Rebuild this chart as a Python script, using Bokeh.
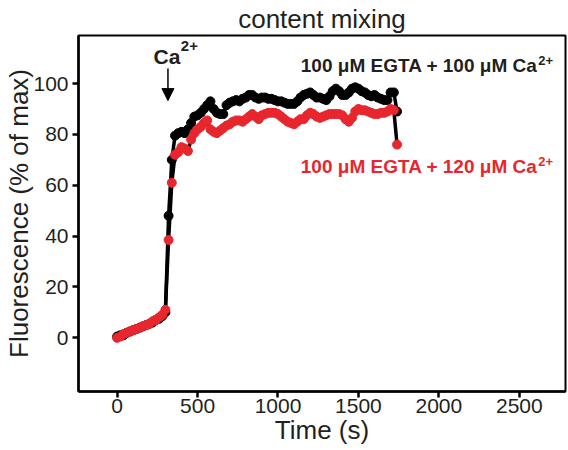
from bokeh.plotting import figure
from bokeh.models import Range1d, FixedTicker, Label, Arrow, NormalHead
from bokeh.embed import file_html
from bokeh.resources import INLINE

# ---- data ----
time_s = [0, 20, 40, 60, 80, 100, 120, 140, 160, 180,
          200, 220, 240, 260, 280, 300, 320, 340, 360, 380,
          400, 420, 440, 460, 480, 500, 520, 540, 560, 580,
          600, 620, 640, 660, 680, 700, 720, 740, 760, 780,
          800, 820, 840, 860, 880, 900, 920, 940, 960, 980,
          1000, 1020, 1040, 1060, 1080, 1100, 1120, 1140, 1160, 1180,
          1200, 1220, 1240, 1260, 1280, 1300, 1320, 1340, 1360, 1380,
          1400, 1420, 1440, 1460, 1480, 1500, 1520, 1540, 1560, 1580,
          1600, 1620, 1640, 1660, 1680, 1700, 1720, 1740]

egta100_ca100 = [0.5, 1.0, 1.0, 2.0, 2.5, 3.0, 3.5, 4.0, 4.5, 5.0,
                 5.5, 6.0, 7.0, 7.5, 8.5, 10.0, 48.0, 70.0, 79.5, 80.5,
                 81.0, 80.5, 82.0, 84.5, 87.0, 87.5, 88.5, 90.0, 91.5, 93.0,
                 90.0, 88.5, 88.0, 88.0, 91.5, 92.5, 93.0, 93.5, 93.0, 94.0,
                 94.5, 95.5, 95.5, 94.5, 94.0, 94.5, 94.5, 94.0, 94.0, 93.5,
                 93.0, 93.0, 92.5, 92.0, 92.0, 92.0, 93.0, 94.5, 95.5, 96.0,
                 96.5, 95.5, 94.5, 94.5, 94.0, 93.5, 95.0, 97.0, 98.0, 97.0,
                 95.5, 95.5, 96.5, 98.0, 98.5, 98.0, 97.0, 96.5, 95.5, 95.0,
                 95.5, 94.5, 94.0, 93.5, 93.5, 96.5, 96.5, 89.0]

egta100_ca120 = [0.0, 0.5, 1.5, 2.0, 2.5, 3.0, 3.5, 4.0, 4.5, 5.0,
                 5.5, 6.5, 7.0, 8.0, 9.0, 11.0, 38.5, 61.0, 72.0, 73.0,
                 75.0, 74.5, 73.5, 78.0, 80.5, 82.0, 83.0, 84.5, 85.5, 82.0,
                 81.0, 80.5, 81.5, 82.5, 83.5, 84.0, 85.0, 85.5, 85.5, 85.0,
                 86.0, 87.0, 88.0, 87.0, 86.0, 87.5, 88.0, 88.5, 88.5, 88.5,
                 88.0, 87.0, 86.0, 85.0, 84.5, 84.0, 85.0, 86.0, 86.0, 87.5,
                 88.5, 88.0, 87.0, 86.5, 87.0, 87.5, 88.0, 88.0, 88.0, 88.0,
                 87.5, 86.0, 85.0, 86.5, 89.0, 90.0, 89.5, 89.5, 89.0, 88.5,
                 88.0, 88.0, 88.5, 88.5, 89.0, 90.0, 89.5, 76.0]

x_ticks = [0, 500, 1000, 1500, 2000, 2500]
y_ticks = [0, 20, 40, 60, 80, 100]

FONT = "Liberation Sans"
RED = "#e8262d"
TXT = "#231f20"

p = figure(width=568, height=450,
           x_range=Range1d(-240, 2787), y_range=Range1d(-21.1, 118.9),
           output_backend="svg", toolbar_location=None,
           min_border_left=78, min_border_right=3,
           min_border_top=35, min_border_bottom=59)
p.grid.visible = False
p.outline_line_color = "black"
p.outline_line_width = 2
p.background_fill_color = "white"
p.border_fill_color = "white"

p.title.text = "content mixing"
p.title.align = "center"
p.title.text_font = FONT
p.title.text_font_size = "26px"
p.title.text_font_style = "normal"
p.title.text_color = TXT
p.title.standoff = 3

p.xaxis.ticker = FixedTicker(ticks=x_ticks)
p.yaxis.ticker = FixedTicker(ticks=y_ticks)
for ax in (p.xaxis[0], p.yaxis[0]):
    ax.axis_line_width = 2.5
    ax.axis_line_color = "black"
    ax.major_tick_line_width = 2.5
    ax.major_tick_line_color = "black"
    ax.major_tick_out = 6
    ax.major_tick_in = 0
    ax.minor_tick_line_color = None
    ax.major_label_text_font = FONT
    ax.major_label_text_font_size = "21px"
    ax.major_label_text_color = TXT
    ax.axis_label_text_font = FONT
    ax.axis_label_text_font_size = "26px"
    ax.axis_label_text_font_style = "normal"
    ax.axis_label_text_color = TXT

p.xaxis.axis_label = "Time (s)"
p.yaxis.axis_label = "Fluorescence (% of max)"
p.xaxis.major_label_standoff = 1
p.xaxis.axis_label_standoff = -1
p.yaxis.major_label_standoff = 4
p.yaxis.axis_label_standoff = -4

# series
p.line(time_s, egta100_ca100, line_color="black", line_width=3.5)
p.line(time_s, egta100_ca120, line_color="black", line_width=3.5)
p.scatter(time_s, egta100_ca100, size=9, fill_color="black", line_color="black")
p.scatter(time_s, egta100_ca120, size=9, fill_color=RED, line_color=RED)

# Ca2+ addition marker
p.add_layout(Label(x=393, y=110.7, text="Ca", text_align="right",
                   text_baseline="alphabetic", text_font=FONT, text_font_style="bold",
                   text_font_size="21px", text_color=TXT))
p.add_layout(Label(x=396, y=114.6, text="2+", text_align="left",
                   text_baseline="alphabetic", text_font=FONT, text_font_style="bold",
                   text_font_size="15px", text_color=TXT))
p.add_layout(Arrow(end=NormalHead(size=12, fill_color="black", line_color="black"),
                   x_start=316, y_start=105.9, x_end=316, y_end=93.3,
                   line_color="black", line_width=1.5))

# series labels
def sup_label(text, y, color):
    p.add_layout(Label(x=2613, y=y, text=text, text_align="right",
                       text_baseline="alphabetic", text_font=FONT, text_font_style="bold",
                       text_font_size="19px", text_color=color))
    p.add_layout(Label(x=2618, y=y + 1.9, text="2+", text_align="left",
                       text_baseline="alphabetic", text_font=FONT, text_font_style="bold",
                       text_font_size="13px", text_color=color))

sup_label("100 \u03bcM EGTA + 100 \u03bcM Ca", 107.0, TXT)
sup_label("100 \u03bcM EGTA + 120 \u03bcM Ca", 67.5, RED)

open("out.html", "w").write(file_html(p, INLINE))
